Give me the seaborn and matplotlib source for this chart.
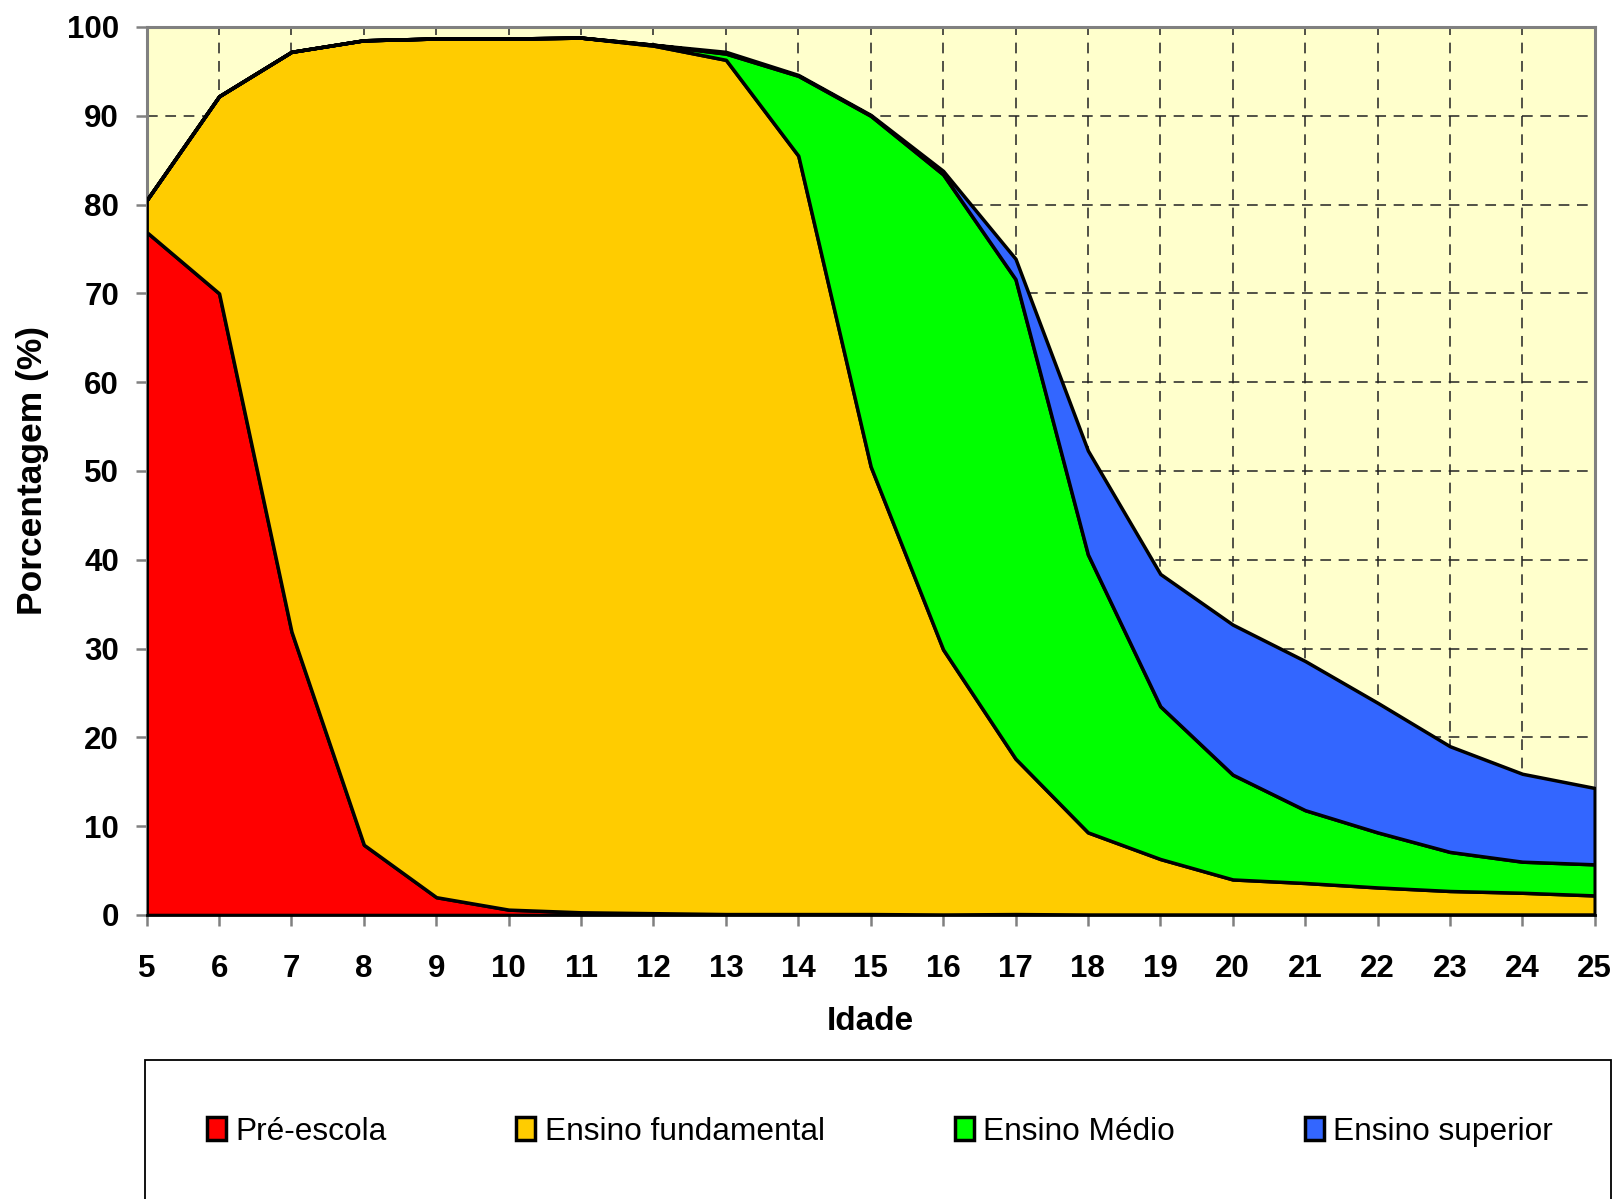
import matplotlib
matplotlib.use("Agg")
import matplotlib.pyplot as plt
import seaborn as sns
from matplotlib.patches import Rectangle

# idade 5..25, percentage by school level (non-cumulative layers)
idades = list(range(5, 26))
pre_escola = [76.9, 70.0, 31.9, 7.9, 2.0, 0.6, 0.3, 0.2, 0.1, 0.1, 0.1,
              0.05, 0.1, 0.05, 0.05, 0.05, 0.05, 0.05, 0.05, 0.05, 0.05]
fundamental = [3.6, 22.2, 65.3, 90.6, 96.7, 98.1, 98.5, 97.7, 96.2, 85.4, 50.4,
               29.85, 17.5, 9.25, 6.25, 3.95, 3.55, 3.05, 2.65, 2.45, 2.15]
medio = [0, 0, 0, 0, 0, 0, 0, 0.1, 0.7, 9.0, 39.5,
         53.5, 54.0, 31.3, 17.2, 11.8, 8.2, 6.2, 4.4, 3.5, 3.5]
superior = [0, 0, 0, 0, 0, 0, 0, 0, 0.2, 0.1, 0.1,
            0.4, 2.3, 11.7, 14.9, 16.9, 16.8, 14.6, 11.9, 9.9, 8.6]

labels = ["Pré-escola", "Ensino fundamental", "Ensino Médio", "Ensino superior"]
colors = ["#FF0000", "#FFCC00", "#00FF00", "#3366FF"]
yticks = list(range(0, 101, 10))

sns.set_theme(style="ticks")
plt.rcParams["font.family"] = ["Liberation Sans", "DejaVu Sans"]
plt.rcParams["text.color"] = "black"
plt.rcParams["axes.labelcolor"] = "black"
plt.rcParams["xtick.labelcolor"] = "black"
plt.rcParams["ytick.labelcolor"] = "black"

fig = plt.figure(figsize=(16.19, 11.99), dpi=100)
ax = fig.add_axes([0.0906, 0.2369, 0.985 - 0.0906, 0.9775 - 0.2369])
ax.set_facecolor("#FFFFCC")

polys = ax.stackplot(idades, pre_escola, fundamental, medio, superior,
                     colors=colors, labels=labels,
                     edgecolor="black", linewidth=2.5, zorder=3)

ax.set_xlim(5, 25)
ax.set_ylim(0, 100)
ax.set_xticks(idades)
ax.set_yticks(yticks)
ax.grid(True, color="#222222", linestyle=(0, (7, 5)), linewidth=1.1, zorder=1)
ax.set_axisbelow(True)

for side in ["top", "right", "left"]:
    ax.spines[side].set_color("#808080")
    ax.spines[side].set_linewidth(2.2)
ax.spines["bottom"].set_color("black")
ax.spines["bottom"].set_linewidth(2)

ax.tick_params(axis="both", direction="out", length=8, width=1.8, color="#808080",
               labelsize=22.5)
ax.tick_params(axis="x", pad=20)
ax.tick_params(axis="y", pad=12)
for lab in ax.get_xticklabels() + ax.get_yticklabels():
    lab.set_fontweight("bold")

ax.set_xlabel("Idade", fontsize=24, fontweight="bold", labelpad=16)
ax.set_ylabel("Porcentagem (%)", fontsize=25.5, fontweight="bold", labelpad=13)

# legend box, running off the bottom edge
fig.patches.append(Rectangle((0.0893, -0.05), 0.9949 - 0.0893, 0.1159 + 0.05,
                             transform=fig.transFigure, facecolor="white",
                             edgecolor="black", linewidth=1.3))
fig.legend(handles=polys, labels=labels, loc="center",
           bbox_to_anchor=(0.5435, 0.0562), ncol=4, frameon=False,
           fontsize=22.8, handlelength=0.6, handleheight=0.75,
           handletextpad=0.3, columnspacing=4.1)

fig.savefig("out.png", dpi=100)
plt.close(fig)
